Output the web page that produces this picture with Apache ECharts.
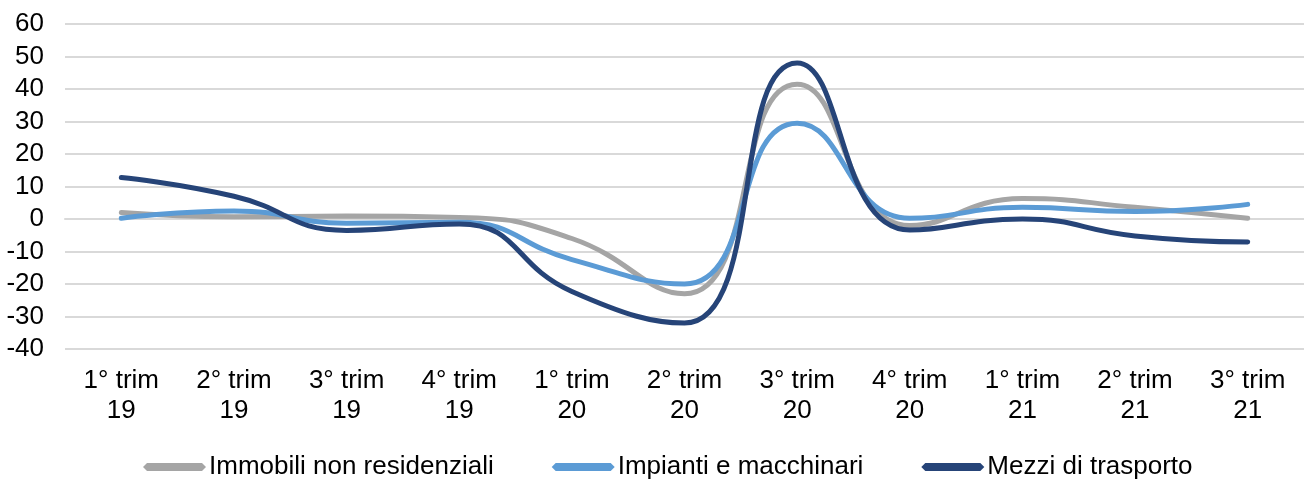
<!DOCTYPE html>
<html>
<head>
<meta charset="utf-8">
<script src="https://cdn.jsdelivr.net/npm/echarts@6/dist/echarts.min.js"></script>
<style>
html,body{margin:0;padding:0;background:#fff;}
#chart{width:1304px;height:480px;}
</style>
</head>
<body>
<div id="chart"></div>
<script>
const categories = ["1° trim\n19","2° trim\n19","3° trim\n19","4° trim\n19","1° trim\n20","2° trim\n20","3° trim\n20","4° trim\n20","1° trim\n21","2° trim\n21","3° trim\n21"];
const immobili = [2, 0.7, 0.9, 0.5, -6, -23, 41.5, -2, 6.3, 3.6, 0.2];
const impianti = [0.2, 2.5, -1.3, -1, -12.5, -20, 29.5, 0.2, 3.6, 2.3, 4.5];
const mezzi = [12.8, 7, -3.5, -1.5, -22.3, -32, 48, -3.4, 0, -5.2, -7.1];
const seriesNames = ["Immobili non residenziali", "Impianti e macchinari", "Mezzi di trasporto"];
const colors = ["#A5A5A5", "#5B9BD5", "#264478"];

const FONT = "'Liberation Sans', Arial, sans-serif";
const chart = echarts.init(document.getElementById('chart'), null, {renderer: 'canvas'});
const icon = 'path://M0,4 L4,0 L59,0 L63,4 L59,8 L4,8 Z';
const datasets = [immobili, impianti, mezzi];

chart.setOption({
  animation: false,
  backgroundColor: '#ffffff',
  textStyle: {fontFamily: FONT},
  grid: {left: 65, top: 24, width: 1252, bottom: 131, containLabel: false},
  legend: {
    left: 143, top: 454, padding: 0,
    itemWidth: 63, itemHeight: 8, itemGap: 58,
    textStyle: {fontFamily: FONT, fontSize: 26, color: '#000', padding: [0,0,0,-2]},
    data: seriesNames.map((n) => ({name: n, icon: icon}))
  },
  xAxis: {
    type: 'category',
    data: categories,
    boundaryGap: true,
    axisLine: {show: true, lineStyle: {color: '#d9d9d9', width: 2}},
    axisTick: {show: false},
    axisLabel: {fontFamily: FONT, fontSize: 26, color: '#000', lineHeight: 30, margin: 17, interval: 0}
  },
  yAxis: {
    type: 'value',
    min: -40, max: 60, interval: 10,
    axisLine: {show: false},
    axisTick: {show: false},
    axisLabel: {fontFamily: FONT, fontSize: 26, color: '#000', margin: 21},
    splitLine: {lineStyle: {color: '#d9d9d9', width: 2}}
  },
  series: datasets.map((d, i) => ({
    name: seriesNames[i],
    type: 'line',
    data: d,
    smooth: 0.5,
    symbol: 'none',
    lineStyle: {color: colors[i], width: 5, cap: 'round'},
    itemStyle: {color: colors[i]}
  }))
});
</script>
</body>
</html>
